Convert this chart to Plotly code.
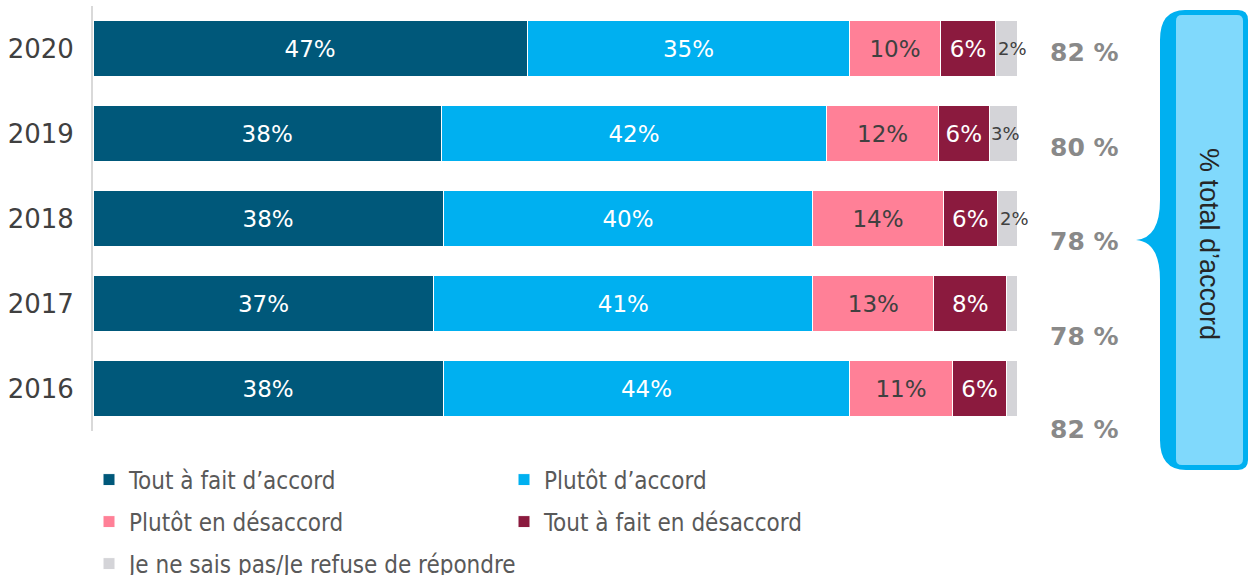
import plotly.graph_objects as go

years = ["2020", "2019", "2018", "2017", "2016"]
series_names = ["Tout à fait d’accord", "Plutôt d’accord", "Plutôt en désaccord",
                "Tout à fait en désaccord", "Je ne sais pas/Je refuse de répondre"]
tout_accord = [47.0, 37.7, 37.9, 36.9, 37.9]
plutot_accord = [34.9, 41.7, 40.0, 41.0, 44.0]
plutot_desaccord = [9.8, 12.1, 14.1, 13.1, 11.1]
tout_desaccord = [6.0, 5.5, 5.9, 7.9, 5.9]
nsp = [2.3, 3.0, 2.1, 1.1, 1.1]
labels_tout_accord = ["47%", "38%", "38%", "37%", "38%"]
labels_plutot_accord = ["35%", "42%", "40%", "41%", "44%"]
labels_plutot_desaccord = ["10%", "12%", "14%", "13%", "11%"]
labels_tout_desaccord = ["6%", "6%", "6%", "8%", "6%"]
labels_nsp = ["2%", "3%", "2%", "", ""]
total_accord = ["82 %", "80 %", "78 %", "78 %", "82 %"]

colors = ["#00587a", "#00b0f0", "#ff8097", "#8b1a3e", "#d4d4d8"]
textcolors = ["#ffffff", "#ffffff", "#404040", "#ffffff", "#404040"]
FONT = "DejaVu Sans"

W, H = 1249, 575
L, R, T, B = 93, 1017, 6, 431


def px(x):
    return (x - L) / (R - L)


def py(y):
    return (B - y) / (B - T)


fig = go.Figure()
values = [tout_accord, plutot_accord, plutot_desaccord, tout_desaccord, nsp]
texts = [labels_tout_accord, labels_plutot_accord, labels_plutot_desaccord, labels_tout_desaccord, None]
legends = ["legend", "legend", "legend2", "legend2", "legend3"]
for i in range(5):
    fig.add_trace(go.Bar(
        y=years, x=values[i], orientation="h", name=series_names[i],
        marker=dict(color=colors[i], line=dict(color="#ffffff", width=1)),
        text=texts[i], textposition="inside" if texts[i] else "none",
        insidetextanchor="middle", textangle=0,
        textfont=dict(family=FONT, size=23, color=textcolors[i]),
        legend=legends[i], hoverinfo="skip",
    ))

annotations = []
# grey segment labels (category index used as y position)
for j in range(len(years)):
    if labels_nsp[j]:
        start = tout_accord[j] + plutot_accord[j] + plutot_desaccord[j] + tout_desaccord[j]
        annotations.append(dict(x=start, y=j, xref="x", yref="y", text=labels_nsp[j],
                                showarrow=False, xanchor="left", xshift=0,
                                font=dict(family=FONT, size=18, color="#404040")))
# totals
total_y = [52, 147, 241, 336, 429]
for j in range(5):
    annotations.append(dict(x=px(1084), y=py(total_y[j]), xref="paper", yref="paper",
                            text="<b>" + total_accord[j] + "</b>", showarrow=False,
                            xanchor="center", yanchor="middle",
                            font=dict(family=FONT, size=25, color="#898989")))
annotations.append(dict(x=px(1209), y=py(244), xref="paper", yref="paper",
                        text="% total d’accord", textangle=90, showarrow=False,
                        xanchor="center", yanchor="middle",
                        font=dict(family="Liberation Sans", size=27, color="#262626")))


def P(x, y):
    return f"{px(x):.5f},{py(y):.5f}"


outer = ("M " + P(1185, 10) + " L " + P(1238, 10) + " Q " + P(1248, 10) + " " + P(1248, 20)
         + " L " + P(1248, 460) + " Q " + P(1248, 470) + " " + P(1238, 470)
         + " L " + P(1186, 470) + " Q " + P(1160, 470) + " " + P(1160, 440)
         + " L " + P(1160, 280) + " Q " + P(1160, 242) + " " + P(1136, 240)
         + " Q " + P(1160, 238) + " " + P(1160, 200)
         + " L " + P(1160, 40) + " Q " + P(1160, 10) + " " + P(1185, 10) + " Z")
inner = ("M " + P(1182, 15) + " L " + P(1237, 15) + " Q " + P(1243, 15) + " " + P(1243, 21)
         + " L " + P(1243, 459) + " Q " + P(1243, 465) + " " + P(1237, 465)
         + " L " + P(1182, 465) + " Q " + P(1176, 465) + " " + P(1176, 459)
         + " L " + P(1176, 21) + " Q " + P(1176, 15) + " " + P(1182, 15) + " Z")
shapes = [
    dict(type="path", path=outer, xref="paper", yref="paper", fillcolor="#00b0f0",
         line=dict(width=0), layer="above"),
    dict(type="path", path=inner, xref="paper", yref="paper", fillcolor="#80d9fc",
         line=dict(width=0), layer="above"),
]

legend_common = dict(orientation="h", xref="container", yref="container", xanchor="left",
                     yanchor="middle", entrywidthmode="pixels",
                     font=dict(family="DejaVu Sans Condensed", size=24, color="#595959"),
                     bgcolor="rgba(0,0,0,0)", itemwidth=30, traceorder="normal")

fig.update_layout(
    width=W, height=H,
    margin=dict(l=L, r=W - R, t=T, b=H - B, autoexpand=False),
    barmode="stack", bargap=0.34,
    plot_bgcolor="#ffffff", paper_bgcolor="#ffffff",
    xaxis=dict(range=[0, 100], visible=False, fixedrange=True, automargin=False),
    yaxis=dict(type="category", categoryorder="array", categoryarray=years,
               range=[4.5, -0.5], autorange=False, automargin=False, fixedrange=True,
               showgrid=False, zeroline=False, showline=True,
               linecolor="#d9d9d9", linewidth=2, ticks="", ticklabelstandoff=12,
               tickfont=dict(family=FONT, size=26, color="#404040")),
    annotations=annotations, shapes=shapes,
    legend=dict(x=89 / W, y=1 - 480 / H, entrywidth=370, **legend_common),
    legend2=dict(x=89 / W, y=1 - 522 / H, entrywidth=370, **legend_common),
    legend3=dict(x=89 / W, y=1 - 564 / H, entrywidth=600, **legend_common),
    showlegend=True,
)

fig.write_html("out.html", config={"displayModeBar": False},
               post_script="document.body.style.margin='0';")
